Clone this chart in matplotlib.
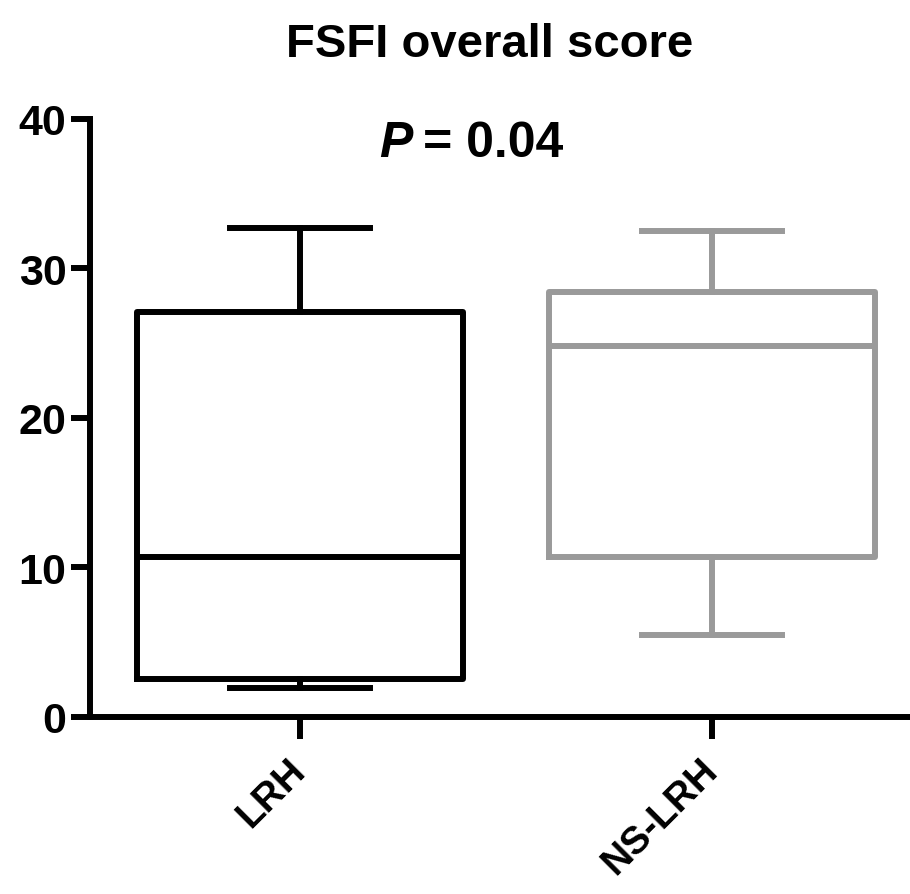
"""
Box plot of FSFI overall score for LRH vs NS-LRH groups.
"""

import matplotlib
matplotlib.use("Agg")
import matplotlib.pyplot as plt

# Values
groups = ["LRH", "NS-LRH"]
whisker_low = [1.95, 5.5]
quartile_1 = [2.55, 10.7]
medians = [10.7, 24.8]
quartile_3 = [27.1, 28.4]
whisker_high = [32.7, 32.5]
box_colors = ["black", "#9a9a9a"]
y_ticks = [0, 10, 20, 30, 40]
p_label = "0.04"

plt.rcParams['font.family'] = ['Liberation Sans', 'DejaVu Sans']

fig = plt.figure(figsize=(9.1, 8.95), dpi=100)
ax = fig.add_axes([0.099, 0.198, 0.901, 0.668])

lw = 4.3
for i, name in enumerate(groups):
    stats = [{
        "label": name,
        "whislo": whisker_low[i],
        "q1": quartile_1[i],
        "med": medians[i],
        "q3": quartile_3[i],
        "whishi": whisker_high[i],
    }]
    c = box_colors[i]
    ax.bxp(stats, positions=[i], widths=0.79, showfliers=False,
           capwidths=0.34, manage_ticks=False,
           boxprops=dict(color=c, linewidth=lw),
           medianprops=dict(color=c, linewidth=lw),
           whiskerprops=dict(color=c, linewidth=lw),
           capprops=dict(color=c, linewidth=lw))

ax.set_xlim(-0.51, 1.48)
ax.set_ylim(0, 40)
ax.set_yticks(y_ticks)
ax.set_yticklabels([str(t) for t in y_ticks], fontsize=31, fontweight="bold")
ax.set_xticks(range(len(groups)))
ax.set_xticklabels(groups, fontsize=28, fontweight="bold", rotation=45,
                   ha="right", va="center", rotation_mode="anchor")

for side in ["top", "right"]:
    ax.spines[side].set_visible(False)
for side in ["left", "bottom"]:
    ax.spines[side].set_linewidth(lw)
    ax.spines[side].set_color("black")

ax.tick_params(axis="y", length=14, width=lw, pad=3)
ax.tick_params(axis="x", length=16, width=lw, pad=18)

# Title and P value
fig.text(0.538, 0.95, "FSFI overall score", ha="center", va="center",
         fontsize=34, fontweight="bold")
ax.text(0.272, 37.5, "P", fontsize=36, fontweight="bold", fontstyle="italic",
        ha="right", va="baseline")
ax.text(0.298, 37.5, "= " + p_label, fontsize=36, fontweight="bold",
        ha="left", va="baseline")

fig.savefig("out.png", dpi=100)
